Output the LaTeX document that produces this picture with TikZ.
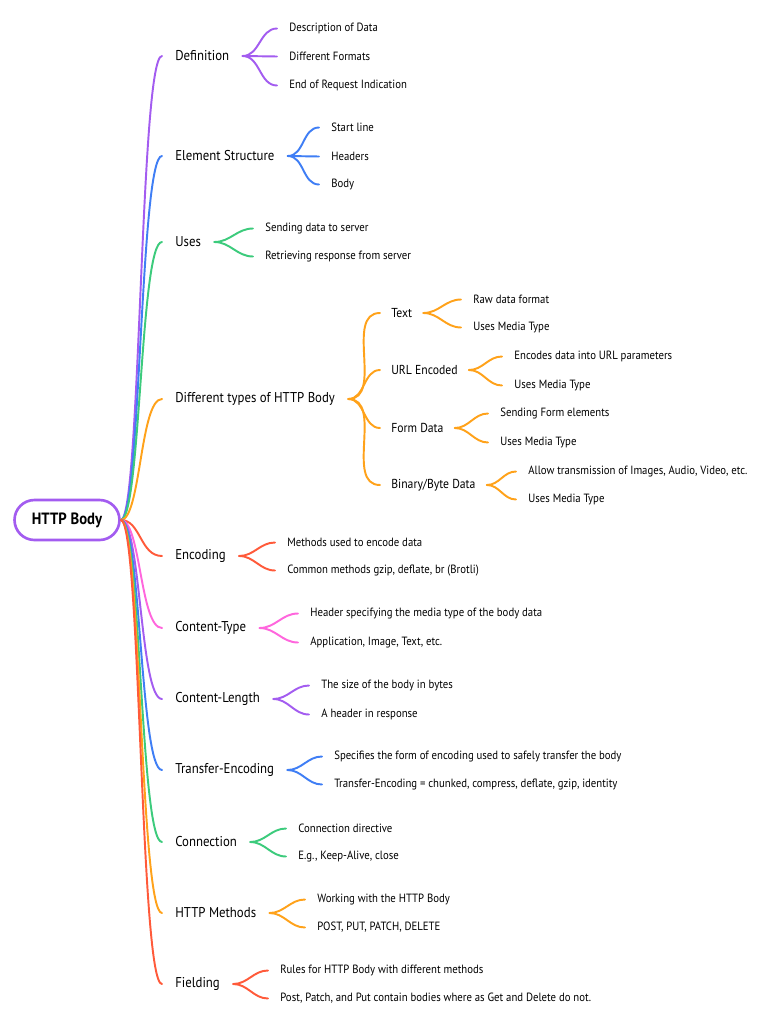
\documentclass[tikz,border=0pt]{standalone}
\usepackage{fontspec}
\setmainfont{PT Sans}[FakeStretch=0.9]
\usetikzlibrary{positioning}
\definecolor{Cpurp}{HTML}{A35CF0}
\definecolor{Cblue}{HTML}{3F7EF5}
\definecolor{Cgreen}{HTML}{3CCB7C}
\definecolor{Corange}{HTML}{FFA21A}
\definecolor{Cred}{HTML}{FF5A3A}
\definecolor{Cpink}{HTML}{FF66DD}
\tikzset{
  rootbox/.style={draw=Cpurp, line width=1.5pt, rounded corners=0.4cm,
    minimum width=2.1cm, minimum height=0.8cm, inner sep=0pt,
    font=\fontsize{9.3}{11}\selectfont\bfseries},
  topic/.style={anchor=west, inner xsep=0.26cm, inner ysep=1pt, yshift=-0.02cm,
    font=\fontsize{8.1}{9.5}\selectfont},
  subtopic/.style={anchor=west, inner xsep=0.22cm, inner ysep=1pt, yshift=-0.02cm,
    font=\fontsize{7.4}{8.5}\selectfont},
  leaf/.style={anchor=west, inner xsep=0.24cm, inner ysep=1pt, yshift=-0.03cm,
    font=\fontsize{6.8}{8}\selectfont},
  limb/.style={line width=1.1pt, line cap=round},
  twig/.style={line width=1.1pt, line cap=round},
}

\begin{document}
\begin{tikzpicture}[x=0.02cm, y=-0.02cm]
\path[fill=white] (0,0) rectangle (768,1024);
\useasboundingbox (0,0) rectangle (768,1024);

%%==========================================================================
%% ROOT
%%==========================================================================
\node[rootbox] (root) at (67,520) {HTTP Body};

%%==========================================================================
%% UPPER BRANCHES
%%==========================================================================

%% Definition
\node[topic] (def) at (162,55) {Definition};
\node[leaf] (def1) at (277,27) {Description of Data};
\node[leaf] (def2) at (277,55) {Different Formats};
\node[leaf] (def3) at (277,84) {End of Request Indication};
\draw[limb, Cpurp] (root.east) .. controls +(20,0) and +(-22,0) .. (def.west);
\draw[twig, Cpurp] (def.east) to[out=0, in=180] (def1.west);
\draw[twig, Cpurp] (def.east) -- (def2.west);
\draw[twig, Cpurp] (def.east) to[out=0, in=180] (def3.west);

%% Element Structure
\node[topic] (elem) at (162,155) {Element Structure};
\node[leaf] (elem1) at (319,126) {Start line};
\node[leaf] (elem2) at (319,155) {Headers};
\node[leaf] (elem3) at (319,183) {Body};
\draw[limb, Cblue] (root.east) .. controls +(20,0) and +(-22,0) .. (elem.west);
\draw[twig, Cblue] (elem.east) to[out=0, in=180] (elem1.west);
\draw[twig, Cblue] (elem.east) -- (elem2.west);
\draw[twig, Cblue] (elem.east) to[out=0, in=180] (elem3.west);

%% Uses
\node[topic] (uses) at (162,241) {Uses};
\node[leaf] (uses1) at (253,227) {Sending data to server};
\node[leaf] (uses2) at (253,255) {Retrieving response from server};
\draw[limb, Cgreen] (root.east) .. controls +(20,0) and +(-22,0) .. (uses.west);
\draw[twig, Cgreen] (uses.east) to[out=0, in=180] (uses1.west);
\draw[twig, Cgreen] (uses.east) to[out=0, in=180] (uses2.west);

%% Different types of HTTP Body
\node[topic] (types) at (162,398) {Different types of HTTP Body};
\node[subtopic] (text) at (380,312) {Text};
\node[subtopic] (url)  at (380,369) {URL Encoded};
\node[subtopic] (form) at (380,427) {Form Data};
\node[subtopic] (bin)  at (380,484) {Binary/Byte Data};
\draw[limb, Corange] (root.east) .. controls +(20,0) and +(-22,0) .. (types.west);
\draw[twig, Corange] (types.east) to[out=0, in=180] (text.west);
\draw[twig, Corange] (types.east) to[out=0, in=180] (url.west);
\draw[twig, Corange] (types.east) to[out=0, in=180] (form.west);
\draw[twig, Corange] (types.east) to[out=0, in=180] (bin.west);

\node[leaf] (text1) at (461,298) {Raw data format};
\node[leaf] (text2) at (461,326) {Uses Media Type};
\draw[twig, Corange] (text.east) to[out=0, in=180] (text1.west);
\draw[twig, Corange] (text.east) to[out=0, in=180] (text2.west);

\node[leaf] (url1) at (502,355) {Encodes data into URL parameters};
\node[leaf] (url2) at (502,384) {Uses Media Type};
\draw[twig, Corange] (url.east) to[out=0, in=180] (url1.west);
\draw[twig, Corange] (url.east) to[out=0, in=180] (url2.west);

\node[leaf] (form1) at (488,412) {Sending Form elements};
\node[leaf] (form2) at (488,441) {Uses Media Type};
\draw[twig, Corange] (form.east) to[out=0, in=180] (form1.west);
\draw[twig, Corange] (form.east) to[out=0, in=180] (form2.west);

\node[leaf] (bin1) at (516,470) {Allow transmission of Images, Audio, Video, etc.};
\node[leaf] (bin2) at (516,498) {Uses Media Type};
\draw[twig, Corange] (bin.east) to[out=0, in=180] (bin1.west);
\draw[twig, Corange] (bin.east) to[out=0, in=180] (bin2.west);

%%==========================================================================
%% LOWER BRANCHES
%%==========================================================================

%% Encoding
\node[topic] (enc) at (162,555) {Encoding};
\node[leaf] (enc1) at (275,541) {Methods used to encode data};
\node[leaf] (enc2) at (275,569) {Common methods gzip, deflate, br (Brotli)};
\draw[limb, Cred] (root.east) .. controls +(20,0) and +(-22,0) .. (enc.west);
\draw[twig, Cred] (enc.east) to[out=0, in=180] (enc1.west);
\draw[twig, Cred] (enc.east) to[out=0, in=180] (enc2.west);

%% Content-Type
\node[topic] (ctype) at (162,627) {Content-Type};
\node[leaf] (ctype1) at (298,612) {Header specifying the media type of the body data};
\node[leaf] (ctype2) at (298,641) {Application, Image, Text, etc.};
\draw[limb, Cpink] (root.east) .. controls +(20,0) and +(-22,0) .. (ctype.west);
\draw[twig, Cpink] (ctype.east) to[out=0, in=180] (ctype1.west);
\draw[twig, Cpink] (ctype.east) to[out=0, in=180] (ctype2.west);

%% Content-Length
\node[topic] (clen) at (162,698) {Content-Length};
\node[leaf] (clen1) at (309,684) {The size of the body in bytes};
\node[leaf] (clen2) at (309,713) {A header in response};
\draw[limb, Cpurp] (root.east) .. controls +(20,0) and +(-22,0) .. (clen.west);
\draw[twig, Cpurp] (clen.east) to[out=0, in=180] (clen1.west);
\draw[twig, Cpurp] (clen.east) to[out=0, in=180] (clen2.west);

%% Transfer-Encoding
\node[topic] (tenc) at (162,769) {Transfer-Encoding};
\node[leaf] (tenc1) at (322,755) {Specifies the form of encoding used to safely transfer the body};
\node[leaf] (tenc2) at (322,783) {Transfer-Encoding = chunked, compress, deflate, gzip, identity};
\draw[limb, Cblue] (root.east) .. controls +(20,0) and +(-22,0) .. (tenc.west);
\draw[twig, Cblue] (tenc.east) to[out=0, in=180] (tenc1.west);
\draw[twig, Cblue] (tenc.east) to[out=0, in=180] (tenc2.west);

%% Connection
\node[topic] (conn) at (162,841) {Connection};
\node[leaf] (conn1) at (286,827) {Connection directive};
\node[leaf] (conn2) at (286,855) {E.g., Keep-Alive, close};
\draw[limb, Cgreen] (root.east) .. controls +(20,0) and +(-22,0) .. (conn.west);
\draw[twig, Cgreen] (conn.east) to[out=0, in=180] (conn1.west);
\draw[twig, Cgreen] (conn.east) to[out=0, in=180] (conn2.west);

%% HTTP Methods
\node[topic] (meth) at (162,912) {HTTP Methods};
\node[leaf] (meth1) at (305,898) {Working with the HTTP Body};
\node[leaf] (meth2) at (305,926) {POST, PUT, PATCH, DELETE};
\draw[limb, Corange] (root.east) .. controls +(20,0) and +(-22,0) .. (meth.west);
\draw[twig, Corange] (meth.east) to[out=0, in=180] (meth1.west);
\draw[twig, Corange] (meth.east) to[out=0, in=180] (meth2.west);

%% Fielding
\node[topic] (field) at (162,983) {Fielding};
\node[leaf] (field1) at (268,969) {Rules for HTTP Body with different methods};
\node[leaf] (field2) at (268,997) {Post, Patch, and Put contain bodies where as Get and Delete do not.};
\draw[limb, Cred] (root.east) .. controls +(20,0) and +(-22,0) .. (field.west);
\draw[twig, Cred] (field.east) to[out=0, in=180] (field1.west);
\draw[twig, Cred] (field.east) to[out=0, in=180] (field2.west);

\end{tikzpicture}
\end{document}
